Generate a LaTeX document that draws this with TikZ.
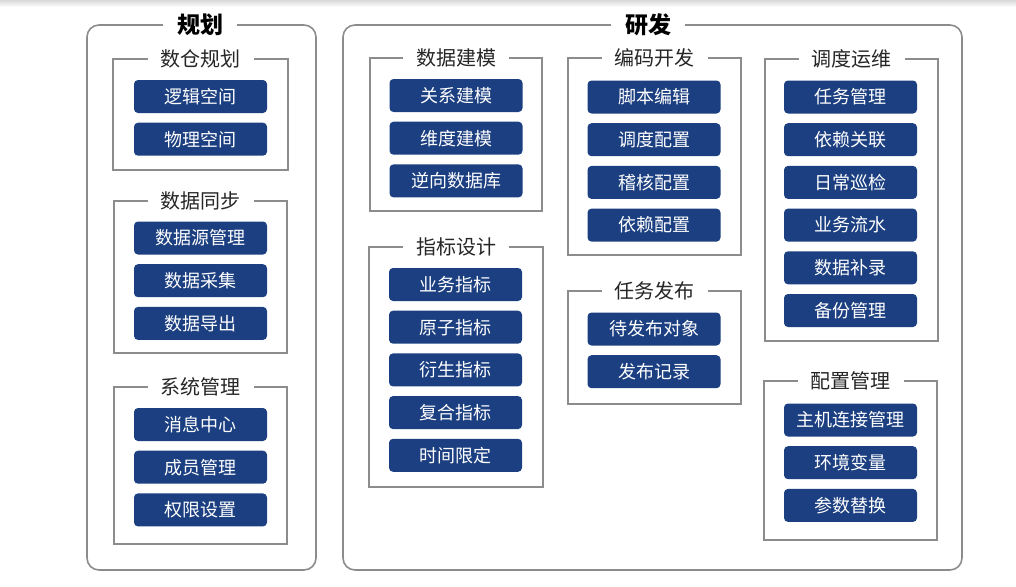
\documentclass[tikz,border=0pt]{standalone}
\usepackage{fontspec}
\setmainfont{Noto Sans CJK SC}
\usetikzlibrary{positioning}
\definecolor{btnblue}{HTML}{1B3F80}
\definecolor{linegray}{HTML}{8C8C8C}

\begin{document}
\begin{tikzpicture}[x=1pt,y=-1pt,node distance=9.3pt]
\tikzstyle{btn}=[fill=btnblue,text=white,rounded corners=4pt,minimum width=133pt,minimum height=33pt,inner sep=0pt,font=\fontsize{18}{18}\selectfont]
\tikzstyle{grp}=[draw=linegray,line width=1.6pt]
\tikzstyle{outer}=[draw=linegray,line width=1.6pt,rounded corners=12pt]
\tikzstyle{grptitle}=[fill=white,inner xsep=13pt,inner ysep=2pt,text=black!85,font=\fontsize{20}{20}\selectfont]
\tikzstyle{maintitle}=[fill=white,inner xsep=14pt,inner ysep=2pt,font=\bfseries\fontsize{23}{23}\selectfont]
\useasboundingbox (0,0) rectangle (1016,586);
\shade[top color=black!15,bottom color=white] (0,0) rectangle (1016,7);

% 规划
\draw[outer] (87,25) rectangle (316,570);
\node[maintitle] (plan) at (200,25) {规划};

\draw[grp] (113,59) rectangle (288,170);
\node[grptitle] (warehouse) at (200.5,59) {数仓规划};
\node[btn] (logic) at (200.5,96.5) {逻辑空间};
\node[btn,below=of logic] (physic) {物理空间};

\draw[grp] (114,201) rectangle (287,353);
\node[grptitle] (sync) at (200.5,201) {数据同步};
\node[btn] (source) at (200.5,238) {数据源管理};
\node[btn,below=of source] (collect) {数据采集};
\node[btn,below=of collect] (export) {数据导出};

\draw[grp] (114,387) rectangle (287,544);
\node[grptitle] (system) at (200.5,387) {系统管理};
\node[btn] (message) at (200.5,424.5) {消息中心};
\node[btn,below=of message] (member) {成员管理};
\node[btn,below=of member] (right) {权限设置};

% 研发
\draw[outer] (343,25) rectangle (962,570);
\node[maintitle] (dev) at (648,25) {研发};

\draw[grp] (370,58) rectangle (542,211);
\node[grptitle] (model) at (456,58) {数据建模};
\node[btn] (relation) at (456,95.5) {关系建模};
\node[btn,below=of relation] (dimension) {维度建模};
\node[btn,below=of dimension] (reverse) {逆向数据库};

\draw[grp] (369,247) rectangle (543,487);
\node[grptitle] (metric) at (456,247) {指标设计};
\node[btn] (business) at (455.5,284.5) {业务指标};
\node[btn,below=of business] (atom) {原子指标};
\node[btn,below=of atom] (derive) {衍生指标};
\node[btn,below=of derive] (compound) {复合指标};
\node[btn,below=of compound] (period) {时间限定};

\draw[grp] (568,58) rectangle (741,255);
\node[grptitle] (code) at (654.5,58) {编码开发};
\node[btn] (script) at (654,97) {脚本编辑};
\node[btn,below=of script] (schedcfg) {调度配置};
\node[btn,below=of schedcfg] (audit) {稽核配置};
\node[btn,below=of audit] (depcfg) {依赖配置};

\draw[grp] (568,291) rectangle (741,404);
\node[grptitle] (publish) at (654.5,291) {任务发布};
\node[btn] (pending) at (654,329) {待发布对象};
\node[btn,below=of pending] (record) {发布记录};

\draw[grp] (765,59) rectangle (938,341);
\node[grptitle] (ops) at (851.5,59) {调度运维};
\node[btn] (task) at (850.5,97) {任务管理};
\node[btn,below=of task] (depend) {依赖关联};
\node[btn,below=of depend] (inspect) {日常巡检};
\node[btn,below=of inspect] (flow) {业务流水};
\node[btn,below=of flow] (backfill) {数据补录};
\node[btn,below=of backfill] (backup) {备份管理};

\draw[grp] (764,381) rectangle (937,540);
\node[grptitle] (config) at (850.5,381) {配置管理};
\node[btn] (host) at (850.5,420) {主机连接管理};
\node[btn,below=of host] (env) {环境变量};
\node[btn,below=of env] (param) {参数替换};
\end{tikzpicture}
\end{document}
